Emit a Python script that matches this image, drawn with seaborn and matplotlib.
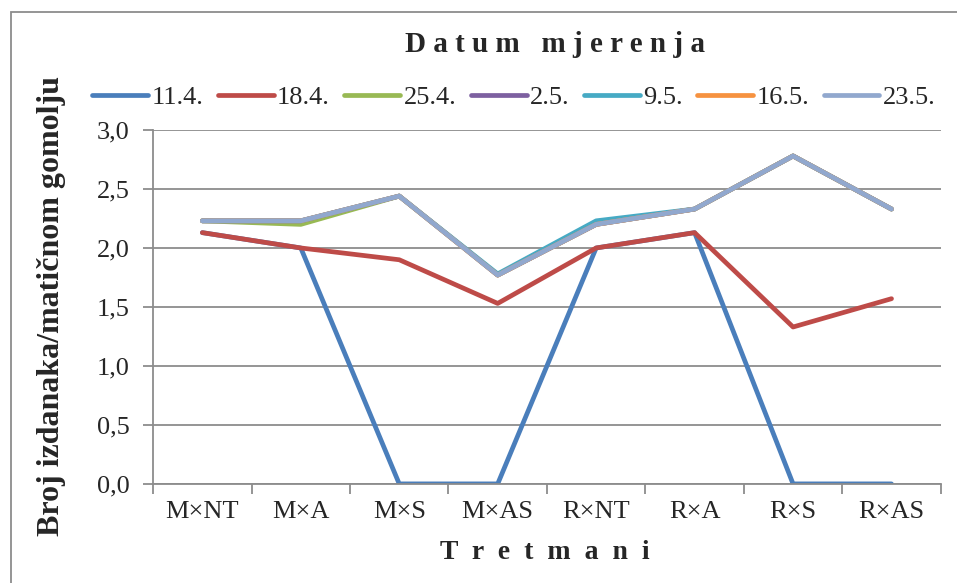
import matplotlib
matplotlib.use('Agg')
import matplotlib.pyplot as plt
import seaborn as sns
import pandas as pd
from matplotlib.patches import Rectangle

# Podaci
tretmani = ['M×NT', 'M×A', 'M×S', 'M×AS', 'R×NT', 'R×A', 'R×S', 'R×AS']
datumi = ['11.4.', '18.4.', '25.4.', '2.5.', '9.5.', '16.5.', '23.5.']
d_11_4 = [2.13, 2.00, 0.00, 0.00, 2.00, 2.13, 0.00, 0.00]
d_18_4 = [2.13, 2.00, 1.90, 1.53, 2.00, 2.13, 1.33, 1.57]
d_25_4 = [2.23, 2.20, 2.44, 1.77, 2.20, 2.33, 2.78, 2.33]
d_2_5 = [2.23, 2.23, 2.44, 1.77, 2.20, 2.33, 2.78, 2.33]
d_9_5 = [2.23, 2.23, 2.44, 1.78, 2.23, 2.33, 2.78, 2.33]
d_16_5 = [2.23, 2.23, 2.44, 1.77, 2.20, 2.33, 2.78, 2.33]
d_23_5 = [2.23, 2.23, 2.44, 1.77, 2.20, 2.33, 2.78, 2.33]
boje = ['#4A7EBB', '#BE4B48', '#98B954', '#7D60A0', '#46AAC4', '#F69240', '#91A8CE']

serije = [d_11_4, d_18_4, d_25_4, d_2_5, d_9_5, d_16_5, d_23_5]
df = pd.DataFrame([
    {'Tretman': t, 'Vrijednost': v, 'Datum': d}
    for d, s in zip(datumi, serije) for t, v in zip(tretmani, s)
])

sns.set_style('white')
plt.rcParams['font.family'] = ['Liberation Serif', 'DejaVu Serif']

fig = plt.figure(figsize=(9.57, 5.83), dpi=100)
ax = fig.add_axes([0.160, 0.170, 0.823, 0.607])

sns.lineplot(data=df, x='Tretman', y='Vrijednost', hue='Datum',
             hue_order=datumi, palette=boje, sort=False, linewidth=3.4,
             ax=ax, legend=True)
for ln in ax.lines:
    ln.set_solid_capstyle('round')
    ln.set_solid_joinstyle('round')

ax.set_xlim(-0.5, 7.5)
ax.set_ylim(0, 3)
ax.set_yticks([0, 0.5, 1, 1.5, 2, 2.5, 3])
ax.set_yticklabels(['0,0', '0,5', '1,0', '1,5', '2,0', '2,5', '3,0'])
ax.set_xticks(range(len(tretmani)))
ax.set_xticklabels(tretmani)
ax.set_xticks([i - 0.5 for i in range(len(tretmani) + 1)], minor=True)
ax.tick_params(axis='x', which='major', length=0, pad=12, labelsize=19)
ax.tick_params(axis='x', which='minor', length=7, width=1.3, color='#8C8C8C',
               direction='out', bottom=True)
ax.tick_params(axis='y', length=7, width=1.3, color='#8C8C8C', direction='out',
               left=True, pad=10, labelsize=19)
ax.grid(axis='y', color='#8C8C8C', linewidth=1.3)
ax.set_axisbelow(True)
for s in ['top', 'right']:
    ax.spines[s].set_visible(False)
for s in ['left', 'bottom']:
    ax.spines[s].set_color('#8C8C8C')
    ax.spines[s].set_linewidth(1.3)

ax.set_xlabel('')
ax.set_ylabel('')
fig.text(0.569, 0.052, 'T  r  e  t  m  a  n  i', ha='center', va='center',
         fontsize=20, fontweight='bold')
fig.text(0.054, 0.475, 'Broj izdanaka/matičnom gomolju', ha='center',
         va='center', rotation=90, fontsize=23, fontweight='bold')

handles, labels = ax.get_legend_handles_labels()
leg = ax.legend(handles, labels, ncol=7, loc='center',
                bbox_to_anchor=(0.458, 1.093), frameon=False, fontsize=19,
                handlelength=2.12, handletextpad=0.12, columnspacing=0.55,
                borderpad=0, borderaxespad=0)
for h in leg.get_lines():
    h.set_linewidth(3.4)
    h.set_solid_capstyle('round')

fig.text(0.58, 0.923, 'D a t u m   m j e r e n j a', ha='center', va='center',
         fontsize=21, fontweight='bold')

fig.patches.append(Rectangle((11 / 957, -0.05), 1.2, 1 - 12 / 583 + 0.05,
                             transform=fig.transFigure, fill=False,
                             edgecolor='#8C8C8C', linewidth=1.3))

fig.savefig('out.png', dpi=100)
